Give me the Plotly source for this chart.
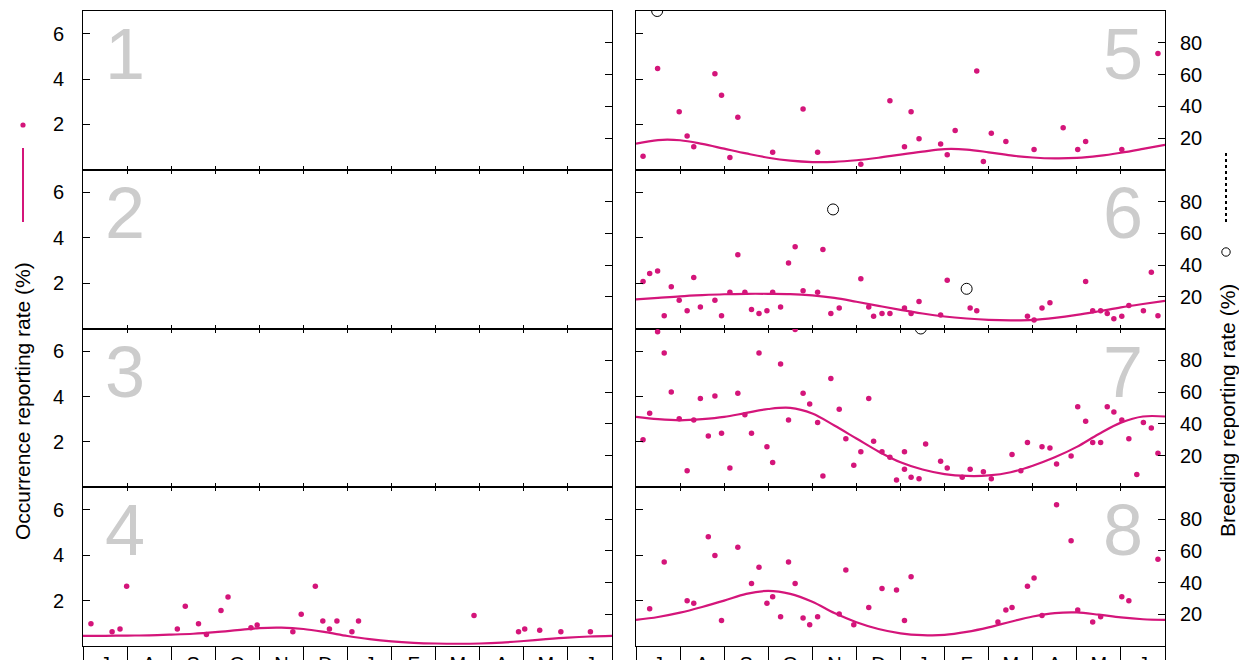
import plotly.graph_objects as go

# ---------------- data ----------------
MONTHS = ["J", "A", "S", "O", "N", "D", "J", "F", "M", "A", "M", "J"]
MONTH_EDGES = [0, 1, 2, 3, 4, 5, 6, 7, 8, 9, 10, 11, 12]
MONTH_MIDS = [0.5, 1.5, 2.5, 3.5, 4.5, 5.5, 6.5, 7.5, 8.5, 9.5, 10.5, 11.5]
OCC_TICKS = [2, 4, 6]
BREED_TICKS = [20, 40, 60, 80]
PANEL_LABELS = ["1", "2", "3", "4", "5", "6", "7", "8"]
CURVE_M = [0, 0.5, 1, 1.5, 2, 2.5, 3, 3.5, 4, 4.5, 5, 5.5, 6, 6.5, 7, 7.5,
           8, 8.5, 9, 9.5, 10, 10.5, 11, 11.5, 12]

# panel 4
p4_m = [0.18, 0.66, 0.84, 0.99, 2.14, 2.32, 2.62, 2.80, 3.13, 3.29, 3.81, 3.95, 4.76,
        4.95, 5.27, 5.44, 5.59, 5.76, 6.10, 6.25, 8.87, 9.88, 10.02, 10.36, 10.84, 11.51]
p4_v = [0.98, 0.63, 0.75, 2.63, 0.75, 1.75, 0.98, 0.51, 1.57, 2.16, 0.81, 0.93, 0.63,
        1.40, 2.63, 1.10, 0.75, 1.10, 0.63, 1.10, 1.34, 0.63, 0.75, 0.69, 0.63, 0.63]
p4_curve = [0.45, 0.45, 0.46, 0.47, 0.50, 0.54, 0.61, 0.70, 0.79, 0.81, 0.75, 0.61, 0.44,
            0.30, 0.20, 0.14, 0.11, 0.10, 0.11, 0.15, 0.22, 0.30, 0.37, 0.42, 0.45]

# panel 5
p5_m = [0.16, 0.49, 0.98, 1.16, 1.31, 1.79, 1.94, 2.13, 2.31, 3.10, 3.79, 4.12, 5.10,
        5.76, 6.09, 6.24, 6.42, 6.91, 7.06, 7.24, 7.73, 7.88, 8.06, 8.39, 9.03, 9.69,
        10.02, 10.20, 11.02, 11.84]
p5_v = [0.60, 4.47, 2.56, 1.49, 1.01, 4.23, 3.28, 0.54, 2.32, 0.77, 2.68, 0.77, 0.24,
        3.04, 1.01, 2.56, 1.37, 1.13, 0.66, 1.73, 4.35, 0.36, 1.61, 1.25, 0.89, 1.85,
        0.89, 1.25, 0.89, 5.13]
p5_curve = [1.15, 1.31, 1.30, 1.14, 0.93, 0.72, 0.53, 0.40, 0.34, 0.35, 0.42, 0.53, 0.67,
            0.80, 0.91, 0.89, 0.77, 0.63, 0.54, 0.50, 0.52, 0.61, 0.75, 0.92, 1.10]
p5_breed_m = [0.48]
p5_breed_v = [100]

# panel 6
p6_m = [0.16, 0.31, 0.49, 0.64, 0.80, 0.98, 1.16, 1.31, 1.46, 1.79, 1.94, 2.13, 2.31,
        2.47, 2.62, 2.79, 2.97, 3.10, 3.28, 3.46, 3.61, 3.79, 4.12, 4.24, 4.42, 4.61,
        5.10, 5.28, 5.39, 5.58, 5.76, 6.09, 6.24, 6.42, 6.91, 7.06, 7.58, 7.73, 8.88,
        9.03, 9.21, 9.39, 10.20, 10.36, 10.54, 10.69, 10.84, 11.02, 11.18, 11.51, 11.69, 11.84]
p6_v = [2.07, 2.42, 2.54, 0.56, 1.84, 1.25, 0.78, 2.25, 0.95, 1.25, 0.56, 1.60, 3.25,
        1.60, 0.84, 0.66, 0.78, 1.60, 0.95, 2.89, 3.60, 1.66, 1.60, 3.48, 0.66, 0.90,
        2.19, 0.95, 0.54, 0.66, 0.66, 0.90, 0.66, 1.19, 0.60, 2.13, 0.90, 0.78, 0.54,
        0.37, 0.90, 1.13, 2.07, 0.78, 0.78, 0.66, 0.43, 0.54, 1.01, 0.78, 2.48, 0.56]
p6_curve = [1.28, 1.35, 1.42, 1.47, 1.51, 1.53, 1.53, 1.52, 1.46, 1.35, 1.18, 1.00, 0.82,
            0.66, 0.53, 0.44, 0.38, 0.36, 0.38, 0.47, 0.60, 0.76, 0.93, 1.08, 1.22]
p6_breed_m = [4.47, 7.50]
p6_breed_v = [75, 25]

# panel 7
p7_m = [0.16, 0.31, 0.49, 0.64, 0.80, 0.98, 1.16, 1.31, 1.46, 1.64, 1.79, 1.94, 2.13,
        2.31, 2.47, 2.62, 2.79, 2.97, 3.10, 3.28, 3.46, 3.61, 3.79, 3.94, 4.12, 4.24,
        4.42, 4.61, 4.76, 4.94, 5.10, 5.28, 5.39, 5.58, 5.76, 5.91, 6.09, 6.09, 6.24,
        6.42, 6.57, 6.91, 7.06, 7.40, 7.58, 7.88, 8.06, 8.53, 8.73, 8.88, 9.21, 9.39,
        9.54, 9.87, 10.02, 10.20, 10.36, 10.54, 10.69, 10.84, 11.02, 11.18, 11.36, 11.51,
        11.69, 11.84]
p7_v = [2.09, 3.26, 6.86, 5.92, 4.20, 3.02, 0.73, 2.97, 3.91, 2.26, 4.02, 2.38, 0.85,
        4.14, 3.20, 2.38, 5.92, 1.79, 1.09, 5.43, 2.97, 6.96, 4.14, 3.67, 2.85, 0.50,
        4.79, 3.44, 2.14, 0.97, 1.56, 3.91, 2.03, 1.56, 1.32, 0.32, 1.56, 0.79, 0.44,
        0.38, 1.91, 1.15, 0.85, 0.44, 0.79, 0.68, 0.38, 1.44, 0.73, 1.97, 1.79, 1.73,
        1.03, 1.38, 3.55, 2.91, 1.97, 1.97, 3.55, 3.32, 2.97, 2.14, 0.56, 2.85,
        2.61, 1.50]
p7_curve = [3.10, 3.00, 2.95, 3.00, 3.10, 3.28, 3.45, 3.50, 3.25, 2.72, 2.15, 1.58, 1.10,
            0.78, 0.58, 0.50, 0.52, 0.66, 0.95, 1.32, 1.78, 2.35, 2.85, 3.12, 3.12]
p7_breed_m = [6.46]
p7_breed_v = [100]

# panel 8
p8_m = [0.31, 0.64, 1.16, 1.31, 1.64, 1.79, 1.94, 2.31, 2.62, 2.79, 2.97, 3.10, 3.28,
        3.46, 3.61, 3.79, 3.94, 4.12, 4.61, 4.76, 4.94, 5.28, 5.58, 5.91, 6.09, 6.24,
        8.21, 8.39, 8.53, 8.88, 9.03, 9.21, 9.54, 9.87, 10.02, 10.36, 10.54, 11.02,
        11.18, 11.84]
p8_v = [1.64, 3.70, 2.00, 1.88, 4.82, 3.99, 1.12, 4.35, 2.76, 3.47, 1.88, 2.17, 1.29,
        3.70, 2.76, 1.23, 0.94, 1.29, 1.41, 3.35, 0.94, 1.70, 2.53, 2.47, 1.12, 3.05,
        1.06, 1.59, 1.70, 2.64, 3.00, 1.35, 6.23, 4.64, 1.59, 1.06, 1.29, 2.17,
        2.00, 3.82]
p8_curve = [1.15, 1.28, 1.47, 1.72, 2.00, 2.30, 2.43, 2.30, 1.95, 1.45, 1.05, 0.75, 0.56,
            0.48, 0.49, 0.62, 0.82, 1.07, 1.30, 1.45, 1.48, 1.38, 1.26, 1.18, 1.15]

PANEL_DATA = {
    4: (p4_m, p4_v, p4_curve, [], []),
    5: (p5_m, p5_v, p5_curve, p5_breed_m, p5_breed_v),
    6: (p6_m, p6_v, p6_curve, p6_breed_m, p6_breed_v),
    7: (p7_m, p7_v, p7_curve, p7_breed_m, p7_breed_v),
    8: (p8_m, p8_v, p8_curve, [], []),
}

# ---------------- style / layout ----------------
PINK = "#d4157a"
GREY = "#cccccc"
FONT = "Liberation Sans, Arial, sans-serif"
TICK_SIZE = 20
TITLE_SIZE = 21

W, H = 1239, 660
PL, PR, PT, PB = 83, 1165, 11, 646          # plot-area pixel bounds
COL_DOM = [[0, (612 - PL) / (PR - PL)], [(636 - PL) / (PR - PL), 1]]


def paper_x(px):
    return (px - PL) / (PR - PL)


def paper_y(py):
    return (PB - py) / (PB - PT)


def nm(prefix, n):
    return prefix if n == 1 else f"{prefix}{n}"


fig = go.Figure()
layout = dict(
    width=W, height=H, autosize=False,
    margin=dict(l=PL, r=W - PR, t=PT, b=H - PB, pad=0, autoexpand=False),
    plot_bgcolor="white", paper_bgcolor="white",
    showlegend=False,
    font=dict(family=FONT, color="black", size=TICK_SIZE),
)
annotations = []
shapes = []
tickfont = dict(family=FONT, size=TICK_SIZE, color="black")

for k in range(1, 9):
    col = (k - 1) // 4
    row = (k - 1) % 4
    ydom = [(3 - row) / 4, (4 - row) / 4]
    xn, yn, bn = nm("x", k), nm("y", k), nm("y", k + 8)

    xa = dict(domain=COL_DOM[col], anchor=yn, range=[0, 12], showline=True,
              linecolor="black", linewidth=1, showgrid=False, zeroline=False,
              fixedrange=True, automargin=False)
    if row < 3:
        xa.update(tickmode="array", tickvals=MONTH_EDGES, ticks="inside", ticklen=4,
                  tickcolor="black", tickwidth=1, showticklabels=False,
                  mirror=("ticks" if row > 0 else True))
    else:
        xa.update(tickmode="array", tickvals=MONTH_MIDS, ticktext=MONTHS,
                  ticks="", ticklabelstandoff=0,
                  tickfont=tickfont, mirror=True,
                  minor=dict(tickmode="array", tickvals=MONTH_EDGES, ticks="outside",
                             ticklen=16, tickcolor="black", tickwidth=1, showgrid=False))
        # inner ticks on the top edge of the bottom panels
        tid = 16 + col + 1
        layout[f"xaxis{tid}"] = dict(overlaying=xn, side="top", anchor=yn, range=[0, 12],
                                     tickmode="array", tickvals=MONTH_EDGES, ticks="inside",
                                     ticklen=4, tickcolor="black", showline=False,
                                     showticklabels=False, showgrid=False, zeroline=False,
                                     fixedrange=True, automargin=False)
        fig.add_trace(go.Scatter(x=[0.5], y=[None], xaxis=f"x{tid}", yaxis=yn,
                                 mode="markers", hoverinfo="skip", showlegend=False))
    layout[nm("xaxis", k)] = xa

    layout[nm("yaxis", k)] = dict(
        domain=ydom, anchor=xn, range=[0, 7], side="left", showline=True,
        linecolor="black", linewidth=1, tickmode="array", tickvals=OCC_TICKS,
        ticks="inside", ticklen=7, tickcolor="black", showticklabels=(col == 0),
        ticklabelstandoff=14, tickfont=tickfont,
        showgrid=False, zeroline=False, fixedrange=True, automargin=False)
    layout[nm("yaxis", k + 8)] = dict(
        overlaying=yn, anchor=xn, range=[0, 100], side="right", showline=True,
        linecolor="black", linewidth=1, tickmode="array", tickvals=BREED_TICKS,
        ticks="inside", ticklen=7, tickcolor="black", showticklabels=(col == 1),
        ticklabelstandoff=10, tickfont=tickfont,
        showgrid=False, zeroline=False, fixedrange=True, automargin=False)

    # empty traces so every axis pair forms a subplot, even without data
    fig.add_trace(go.Scatter(x=[0.5], y=[None], xaxis=xn, yaxis=yn, mode="markers",
                             hoverinfo="skip", showlegend=False))
    fig.add_trace(go.Scatter(x=[0.5], y=[None], xaxis=xn, yaxis=bn, mode="markers",
                             hoverinfo="skip", showlegend=False))

    if k in PANEL_DATA:
        pm, pv, pc, bm, bv = PANEL_DATA[k]
        fig.add_trace(go.Scatter(x=CURVE_M, y=pc, xaxis=xn, yaxis=yn, mode="lines",
                                 line=dict(color=PINK, width=2.2, shape="spline",
                                           smoothing=1.0),
                                 hoverinfo="skip"))
        fig.add_trace(go.Scatter(x=pm, y=pv, xaxis=xn, yaxis=yn, mode="markers",
                                 marker=dict(color=PINK, size=5.5), hoverinfo="skip"))
        if bm:
            fig.add_trace(go.Scatter(x=bm, y=bv, xaxis=xn, yaxis=bn, mode="markers",
                                     marker=dict(symbol="circle-open", size=11,
                                                 color="black", line=dict(width=1)),
                                     hoverinfo="skip"))

    annotations.append(dict(
        text=PANEL_LABELS[k - 1], xref=f"{xn} domain", yref=f"{yn} domain",
        x=(0.0803 if col == 0 else 0.9206), y=0.729, xanchor="center", yanchor="middle",
        showarrow=False, font=dict(family=FONT, size=72, color=GREY)))

# left combined axis title with point/line key
annotations.append(dict(text="Occurrence reporting rate (%)", xref="paper", yref="paper",
                        x=paper_x(22), y=paper_y(401), textangle=-90, xanchor="center",
                        yanchor="middle", showarrow=False,
                        font=dict(family=FONT, size=TITLE_SIZE, color="black")))
shapes.append(dict(type="circle", xref="paper", yref="paper", xsizemode="pixel",
                   ysizemode="pixel", xanchor=paper_x(23), yanchor=paper_y(125),
                   x0=-2.6, x1=2.6, y0=-2.6, y1=2.6, fillcolor=PINK,
                   line=dict(width=0)))
shapes.append(dict(type="line", xref="paper", yref="paper", x0=paper_x(23), x1=paper_x(23),
                   y0=paper_y(222), y1=paper_y(148), line=dict(color=PINK, width=2)))

# right combined axis title with circle/dotted key
annotations.append(dict(text="Breeding reporting rate (%)", xref="paper", yref="paper",
                        x=paper_x(1227), y=paper_y(411), textangle=-90, xanchor="center",
                        yanchor="middle", showarrow=False,
                        font=dict(family=FONT, size=TITLE_SIZE, color="black")))
shapes.append(dict(type="circle", xref="paper", yref="paper", xsizemode="pixel",
                   ysizemode="pixel", xanchor=paper_x(1226), yanchor=paper_y(252),
                   x0=-4.2, x1=4.2, y0=-4.2, y1=4.2, line=dict(color="black", width=1)))
shapes.append(dict(type="line", xref="paper", yref="paper", x0=paper_x(1226),
                   x1=paper_x(1226), y0=paper_y(222), y1=paper_y(152),
                   line=dict(color="black", width=2, dash="dot")))

layout["annotations"] = annotations
layout["shapes"] = shapes
fig.update_layout(**layout)

fig.write_html("out.html", config={"displayModeBar": False},
               post_script="document.body.style.margin='0';")
